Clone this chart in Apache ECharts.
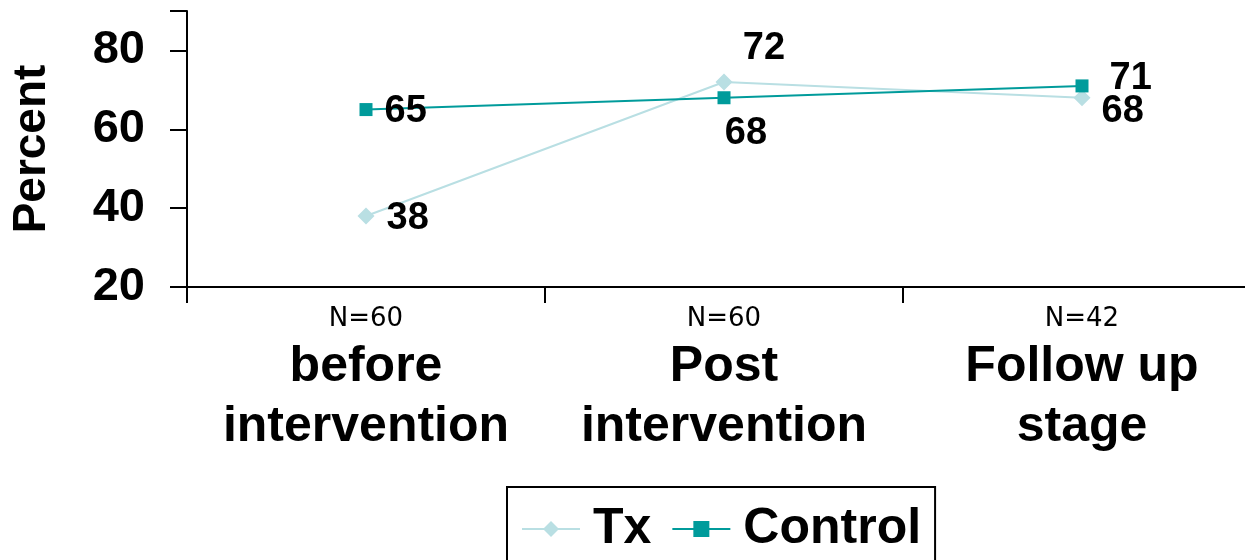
<!DOCTYPE html>
<html>
<head>
<meta charset="utf-8">
<script src="https://cdn.jsdelivr.net/npm/echarts@6/dist/echarts.min.js"></script>
<style>
  html, body { margin: 0; padding: 0; background: #fff; }
  #chart { width: 1245px; height: 560px; }
</style>
</head>
<body>
<div id="chart"></div>
<script>
// Study stages along the x axis, with the sample size shown above each one
const stages = ['before\nintervention', 'Post\nintervention', 'Follow up\nstage'];
const sampleSizes = ['N=60', 'N=60', 'N=42'];

// Percent values per group
const txValues = [38, 72, 68];
const controlValues = [65, 68, 71];

// Y axis range and step
const yMin = 20, yMax = 90, yStep = 20;

const FONT = '"Liberation Sans", Arial, sans-serif';
const TX_COLOR = '#B9DFE3';
const CONTROL_COLOR = '#009B9B';

// Per-point label placement (position + nudge) for readability
const txLabelPlace = [
  { position: 'right', distance: 12, offset: [0, 2] },
  { position: 'top', distance: 6, offset: [40, 0] },
  { position: 'right', distance: 12, offset: [-1, 14] }
];
const controlLabelPlace = [
  { position: 'right', distance: 12, offset: [0, 2] },
  { position: 'bottom', distance: 6, offset: [22, 4] },
  { position: 'right', distance: 12, offset: [9, -7] }
];

function withLabels(values, places) {
  return values.map((v, i) => ({ value: v, label: places[i] }));
}

const labelStyle = {
  show: true,
  color: '#000',
  fontFamily: FONT,
  fontWeight: 'bold',
  fontSize: 38
};

const chart = echarts.init(document.getElementById('chart'), null, { renderer: 'canvas' });

chart.setOption({
  animation: false,
  backgroundColor: '#fff',
  textStyle: { fontFamily: FONT },
  grid: { left: 187, top: 11, width: 1074, height: 276, containLabel: false, outerBoundsMode: 'none' },
  legend: {
    left: 507,
    top: 487,
    data: ['Tx', 'Control'],
    itemWidth: 58,
    itemHeight: 20,
    itemGap: 20,
    padding: [17, 14, 40, 14],
    borderColor: '#000',
    borderWidth: 2,
    textStyle: { fontFamily: FONT, fontWeight: 'bold', fontSize: 50, color: '#000', padding: [0, 0, 0, 8] }
  },
  xAxis: {
    type: 'category',
    data: stages,
    boundaryGap: true,
    axisLine: { lineStyle: { color: '#000', width: 2 } },
    axisTick: { show: true, inside: false, length: 16, lineStyle: { color: '#000', width: 2 } },
    axisLabel: {
      margin: 14,
      interval: 0,
      formatter: function (value, idx) {
        const lines = value.split('\n').map(s => '{c|' + s + '}').join('\n');
        return '{n|' + sampleSizes[idx] + '}\n' + lines;
      },
      rich: {
        n: { fontFamily: '"DejaVu Sans", sans-serif', fontSize: 26, fontWeight: 'normal', color: '#000', lineHeight: 36 },
        c: { fontFamily: FONT, fontSize: 50, fontWeight: 'bold', color: '#000', lineHeight: 60 }
      }
    }
  },
  yAxis: {
    type: 'value',
    min: yMin,
    max: yMax,
    interval: yStep,
    name: 'Percent',
    nameLocation: 'middle',
    nameRotate: 90,
    nameGap: 132,
    nameTextStyle: { fontFamily: FONT, fontWeight: 'bold', fontSize: 46, color: '#000' },
    splitLine: { show: false },
    axisLine: { show: true, lineStyle: { color: '#000', width: 2 } },
    axisTick: { show: true, length: 17, lineStyle: { color: '#000', width: 2 } },
    axisLabel: {
      margin: 42,
      color: '#000',
      fontFamily: FONT,
      fontWeight: 'bold',
      fontSize: 47,
      padding: [12, 0, 0, 0],
      formatter: function (v) { return v > 80 ? '' : String(v); }
    }
  },
  series: [
    {
      name: 'Tx',
      type: 'line',
      data: withLabels(txValues, txLabelPlace),
      symbol: 'diamond',
      symbolSize: 17,
      color: TX_COLOR,
      lineStyle: { color: TX_COLOR, width: 2 },
      itemStyle: { color: TX_COLOR },
      label: labelStyle
    },
    {
      name: 'Control',
      type: 'line',
      data: withLabels(controlValues, controlLabelPlace),
      symbol: 'rect',
      symbolSize: 13,
      color: CONTROL_COLOR,
      lineStyle: { color: CONTROL_COLOR, width: 2 },
      itemStyle: { color: CONTROL_COLOR },
      label: labelStyle
    }
  ]
});
</script>
</body>
</html>
